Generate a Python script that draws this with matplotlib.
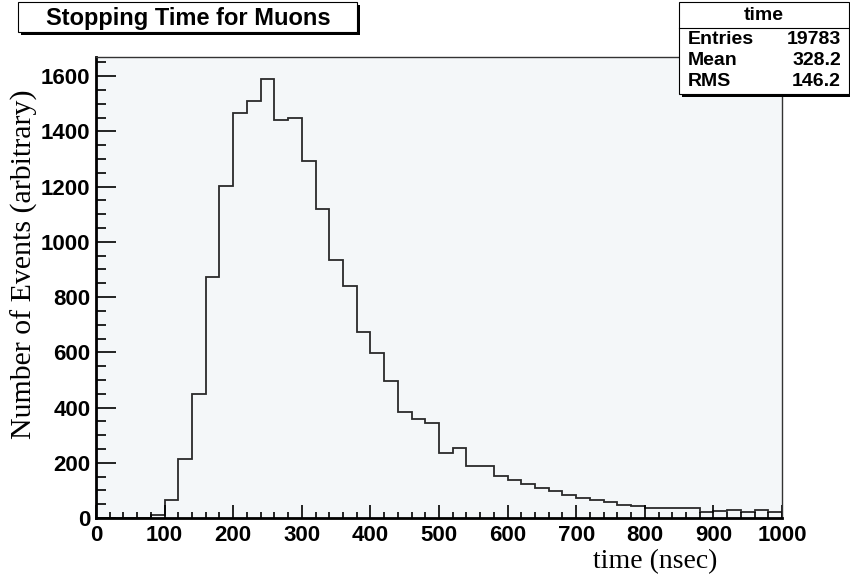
import numpy as np
import matplotlib
matplotlib.use("Agg")
from matplotlib import pyplot as plt
from matplotlib.patches import Rectangle
from matplotlib.ticker import MultipleLocator

# histogram contents, 50 bins of 20 ns from 0 to 1000 ns
bin_edges = np.arange(0, 1001, 20)
counts = [0, 0, 0, 0, 10, 65, 212, 448, 873, 1201,
          1465, 1511, 1590, 1442, 1447, 1292, 1118, 936, 841, 672,
          596, 496, 385, 358, 345, 236, 253, 187, 190, 151,
          137, 124, 110, 96, 84, 72, 66, 59, 47, 43,
          37, 38, 38, 36, 22, 24, 28, 20, 28, 22]

title = "Stopping Time for Muons"
stats_name = "time"
stats_labels = ["Entries", "Mean", "RMS"]
stats_values = ["19783", "328.2", "146.2"]

W, H = 850, 577
fig = plt.figure(figsize=(W / 100, H / 100), dpi=100)
fig.patch.set_facecolor("white")

# axes frame in pixel coords: x 96..782, y 57..518
ax = fig.add_axes([96 / W, (H - 518) / H, (782 - 96) / W, (518 - 57) / H])
ax.set_facecolor("#f4f7f9")

ax.stairs(counts, bin_edges, color="#2a2a2a", linewidth=1.3, baseline=0)

ax.set_xlim(0, 1000)
ax.set_ylim(0, 1.05 * max(counts))

ax.xaxis.set_major_locator(MultipleLocator(100))
ax.xaxis.set_minor_locator(MultipleLocator(20))
ax.yaxis.set_major_locator(MultipleLocator(200))
ax.yaxis.set_minor_locator(MultipleLocator(50))

ax.tick_params(axis="x", which="major", direction="in", length=9.5, width=1.2,
               pad=5, labelsize=16)
ax.tick_params(axis="x", which="minor", direction="in", length=4.5, width=1.2)
ax.tick_params(axis="y", which="major", direction="in", length=14.5, width=1.2,
               pad=4, labelsize=16)
ax.tick_params(axis="y", which="minor", direction="in", length=7, width=1.2)
for lab in ax.get_xticklabels() + ax.get_yticklabels():
    lab.set_fontfamily("Liberation Sans")
    lab.set_fontweight("bold")

for side in ["left", "bottom"]:
    ax.spines[side].set_linewidth(2.0)
    ax.spines[side].set_color("black")
for side in ["top", "right"]:
    ax.spines[side].set_linewidth(1.0)
    ax.spines[side].set_color("#333333")

# axis titles, ROOT style placement
fig.text(717 / W, (H - 562) / H, "time (nsec)", ha="right", va="center",
         fontsize=20, fontfamily="Liberation Serif")
fig.text(24 / W, (H - 264) / H, "Number of Events (arbitrary)", ha="center",
         va="center", rotation=90, fontsize=21.5, fontfamily="Liberation Serif")


def px_rect(x0, y0, x1, y1, **kw):
    return Rectangle((x0 / W, (H - y1) / H), (x1 - x0) / W, (y1 - y0) / H,
                     transform=fig.transFigure, **kw)


# title box with shadow
fig.add_artist(px_rect(21, 5, 360, 35, facecolor="black", edgecolor="none"))
fig.add_artist(px_rect(18, 2, 357, 32, facecolor="white", edgecolor="black",
                       linewidth=0.8))
fig.text(188 / W, (H - 18) / H, title, ha="center", va="center",
         fontsize=17, fontweight="bold", fontfamily="Liberation Sans")

# stats box
fig.add_artist(px_rect(682, 5, 852, 97, facecolor="black", edgecolor="none",
                       zorder=5))
fig.add_artist(px_rect(679, 2, 849, 94, facecolor="white", edgecolor="black",
                       linewidth=0.8, zorder=6))
fig.add_artist(plt.Line2D([679 / W, 849 / W], [(H - 28) / H, (H - 28) / H],
                          transform=fig.transFigure, color="black",
                          linewidth=0.8, zorder=7))
fig.text(764 / W, (H - 15) / H, stats_name, ha="center", va="center",
         fontsize=14, fontweight="bold", fontfamily="Liberation Sans", zorder=8)
for i, (lab, val) in enumerate(zip(stats_labels, stats_values)):
    yy = (H - (39 + 21.5 * i)) / H
    fig.text(688 / W, yy, lab, ha="left", va="center", fontsize=14,
             fontweight="bold", fontfamily="Liberation Sans", zorder=8)
    fig.text(841 / W, yy, val, ha="right", va="center", fontsize=14,
             fontweight="bold", fontfamily="Liberation Sans", zorder=8)

fig.savefig("out.png", dpi=100)
